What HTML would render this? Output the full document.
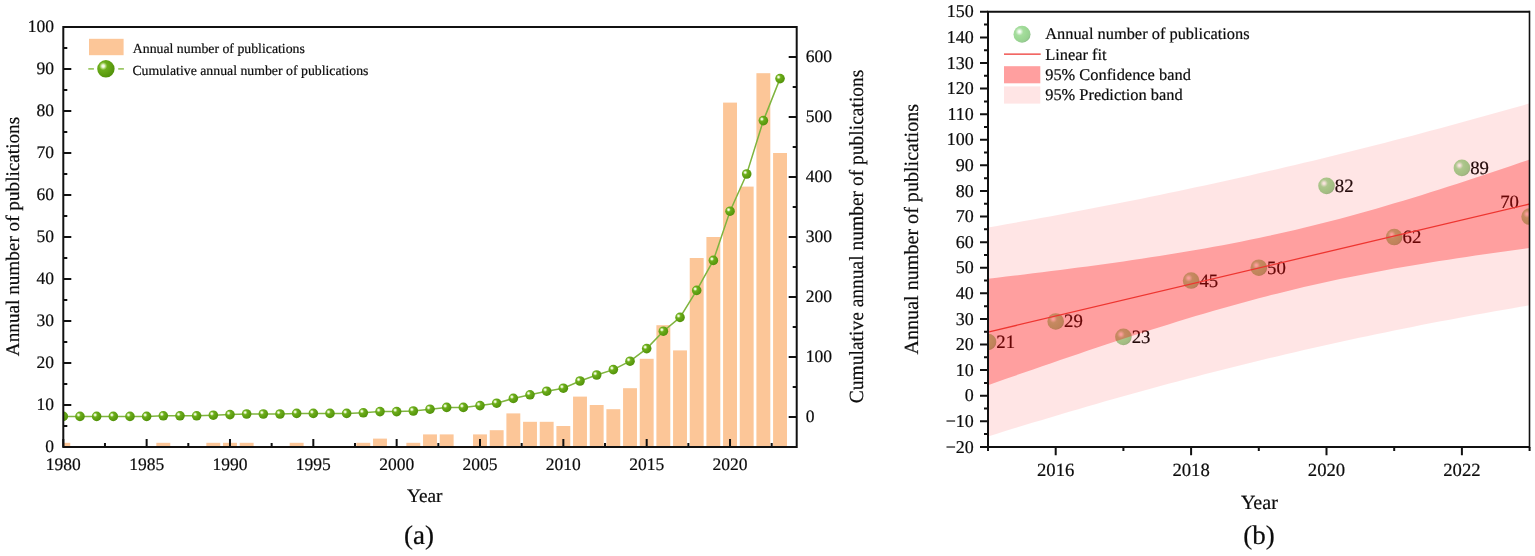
<!DOCTYPE html>
<html lang="en"><head><meta charset="utf-8"><title>Annual number of publications</title>
<style>html,body{margin:0;padding:0;background:#fff}body{width:1535px;height:556px;overflow:hidden}</style></head>
<body>
<svg width="1535" height="556" viewBox="0 0 1535 556" style="display:block;font-family:'Liberation Serif', 'Times New Roman', serif" fill="#0c0c0c">
<style>text{stroke:#0c0c0c;stroke-width:.2px;stroke-linejoin:round;text-rendering:geometricPrecision}</style>
<defs>
<radialGradient id="gs" cx="0.345" cy="0.345" r="0.68" fx="0.345" fy="0.345">
<stop offset="0" stop-color="#ffffff"/><stop offset="0.12" stop-color="#e6f4cc"/><stop offset="0.23" stop-color="#a5d165"/><stop offset="0.34" stop-color="#6cad1c"/><stop offset="0.6" stop-color="#62a313"/><stop offset="1" stop-color="#52920b"/>
</radialGradient>
<radialGradient id="gl" cx="0.35" cy="0.35" r="0.68" fx="0.35" fy="0.35">
<stop offset="0" stop-color="#ffffff"/><stop offset="0.1" stop-color="#f1faef"/><stop offset="0.22" stop-color="#c9ebc4"/><stop offset="0.34" stop-color="#a6dd9e"/><stop offset="0.6" stop-color="#9dd995"/><stop offset="0.9" stop-color="#98d091"/><stop offset="1" stop-color="#8dc08a"/>
</radialGradient>
<clipPath id="ca"><rect x="63.3" y="27" width="733.4" height="420"/></clipPath>
<clipPath id="cb"><rect x="988" y="11.8" width="541.6" height="435.1"/></clipPath>
</defs>
<rect width="1535" height="556" fill="#fff"/>
<g clip-path="url(#ca)" fill="#FCC698">
<rect x="56.35" y="442.80" width="13.9" height="4.20"/>
<rect x="156.36" y="442.80" width="13.9" height="4.20"/>
<rect x="206.36" y="442.80" width="13.9" height="4.20"/>
<rect x="223.03" y="442.80" width="13.9" height="4.20"/>
<rect x="239.70" y="442.80" width="13.9" height="4.20"/>
<rect x="289.70" y="442.80" width="13.9" height="4.20"/>
<rect x="356.38" y="442.80" width="13.9" height="4.20"/>
<rect x="373.05" y="438.60" width="13.9" height="8.40"/>
<rect x="406.38" y="442.80" width="13.9" height="4.20"/>
<rect x="423.05" y="434.40" width="13.9" height="12.60"/>
<rect x="439.72" y="434.40" width="13.9" height="12.60"/>
<rect x="473.05" y="434.40" width="13.9" height="12.60"/>
<rect x="489.72" y="430.20" width="13.9" height="16.80"/>
<rect x="506.39" y="413.40" width="13.9" height="33.60"/>
<rect x="523.06" y="421.80" width="13.9" height="25.20"/>
<rect x="539.73" y="421.80" width="13.9" height="25.20"/>
<rect x="556.40" y="426.00" width="13.9" height="21.00"/>
<rect x="573.06" y="396.60" width="13.9" height="50.40"/>
<rect x="589.73" y="405.00" width="13.9" height="42.00"/>
<rect x="606.40" y="409.20" width="13.9" height="37.80"/>
<rect x="623.07" y="388.20" width="13.9" height="58.80"/>
<rect x="639.74" y="358.80" width="13.9" height="88.20"/>
<rect x="656.40" y="325.20" width="13.9" height="121.80"/>
<rect x="673.07" y="350.40" width="13.9" height="96.60"/>
<rect x="689.74" y="258.00" width="13.9" height="189.00"/>
<rect x="706.41" y="237.00" width="13.9" height="210.00"/>
<rect x="723.08" y="102.60" width="13.9" height="344.40"/>
<rect x="739.75" y="186.60" width="13.9" height="260.40"/>
<rect x="756.41" y="73.20" width="13.9" height="373.80"/>
<rect x="773.08" y="153.00" width="13.9" height="294.00"/>
</g>
<g clip-path="url(#ca)"><polyline points="63.30,416.40 79.97,416.40 96.64,416.40 113.30,416.40 129.97,416.40 146.64,416.40 163.31,415.80 179.98,415.80 196.65,415.80 213.31,415.20 229.98,414.60 246.65,414.00 263.32,414.00 279.99,414.00 296.65,413.40 313.32,413.40 329.99,413.40 346.66,413.40 363.33,412.80 380.00,411.60 396.66,411.60 413.33,411.00 430.00,409.20 446.67,407.40 463.34,407.40 480.00,405.60 496.67,403.20 513.34,398.40 530.01,394.80 546.68,391.20 563.35,388.20 580.01,381.00 596.68,375.00 613.35,369.60 630.02,361.20 646.69,348.60 663.35,331.20 680.02,317.40 696.69,290.40 713.36,260.40 730.03,211.20 746.70,174.00 763.36,120.60 780.03,78.60" fill="none" stroke="#7FB43E" stroke-width="1.5"/>
<circle cx="63.30" cy="416.40" r="4.8" fill="url(#gs)"/>
<circle cx="79.97" cy="416.40" r="4.8" fill="url(#gs)"/>
<circle cx="96.64" cy="416.40" r="4.8" fill="url(#gs)"/>
<circle cx="113.30" cy="416.40" r="4.8" fill="url(#gs)"/>
<circle cx="129.97" cy="416.40" r="4.8" fill="url(#gs)"/>
<circle cx="146.64" cy="416.40" r="4.8" fill="url(#gs)"/>
<circle cx="163.31" cy="415.80" r="4.8" fill="url(#gs)"/>
<circle cx="179.98" cy="415.80" r="4.8" fill="url(#gs)"/>
<circle cx="196.65" cy="415.80" r="4.8" fill="url(#gs)"/>
<circle cx="213.31" cy="415.20" r="4.8" fill="url(#gs)"/>
<circle cx="229.98" cy="414.60" r="4.8" fill="url(#gs)"/>
<circle cx="246.65" cy="414.00" r="4.8" fill="url(#gs)"/>
<circle cx="263.32" cy="414.00" r="4.8" fill="url(#gs)"/>
<circle cx="279.99" cy="414.00" r="4.8" fill="url(#gs)"/>
<circle cx="296.65" cy="413.40" r="4.8" fill="url(#gs)"/>
<circle cx="313.32" cy="413.40" r="4.8" fill="url(#gs)"/>
<circle cx="329.99" cy="413.40" r="4.8" fill="url(#gs)"/>
<circle cx="346.66" cy="413.40" r="4.8" fill="url(#gs)"/>
<circle cx="363.33" cy="412.80" r="4.8" fill="url(#gs)"/>
<circle cx="380.00" cy="411.60" r="4.8" fill="url(#gs)"/>
<circle cx="396.66" cy="411.60" r="4.8" fill="url(#gs)"/>
<circle cx="413.33" cy="411.00" r="4.8" fill="url(#gs)"/>
<circle cx="430.00" cy="409.20" r="4.8" fill="url(#gs)"/>
<circle cx="446.67" cy="407.40" r="4.8" fill="url(#gs)"/>
<circle cx="463.34" cy="407.40" r="4.8" fill="url(#gs)"/>
<circle cx="480.00" cy="405.60" r="4.8" fill="url(#gs)"/>
<circle cx="496.67" cy="403.20" r="4.8" fill="url(#gs)"/>
<circle cx="513.34" cy="398.40" r="4.8" fill="url(#gs)"/>
<circle cx="530.01" cy="394.80" r="4.8" fill="url(#gs)"/>
<circle cx="546.68" cy="391.20" r="4.8" fill="url(#gs)"/>
<circle cx="563.35" cy="388.20" r="4.8" fill="url(#gs)"/>
<circle cx="580.01" cy="381.00" r="4.8" fill="url(#gs)"/>
<circle cx="596.68" cy="375.00" r="4.8" fill="url(#gs)"/>
<circle cx="613.35" cy="369.60" r="4.8" fill="url(#gs)"/>
<circle cx="630.02" cy="361.20" r="4.8" fill="url(#gs)"/>
<circle cx="646.69" cy="348.60" r="4.8" fill="url(#gs)"/>
<circle cx="663.35" cy="331.20" r="4.8" fill="url(#gs)"/>
<circle cx="680.02" cy="317.40" r="4.8" fill="url(#gs)"/>
<circle cx="696.69" cy="290.40" r="4.8" fill="url(#gs)"/>
<circle cx="713.36" cy="260.40" r="4.8" fill="url(#gs)"/>
<circle cx="730.03" cy="211.20" r="4.8" fill="url(#gs)"/>
<circle cx="746.70" cy="174.00" r="4.8" fill="url(#gs)"/>
<circle cx="763.36" cy="120.60" r="4.8" fill="url(#gs)"/>
<circle cx="780.03" cy="78.60" r="4.8" fill="url(#gs)"/>
</g>
<g stroke="#111" stroke-width="2" fill="none" stroke-linecap="butt">
<rect x="63.3" y="27.0" width="733.4000000000001" height="420.0"/>
<path d="M63.3 447.00h8 M63.3 426.00h4 M63.3 405.00h8 M63.3 384.00h4 M63.3 363.00h8 M63.3 342.00h4 M63.3 321.00h8 M63.3 300.00h4 M63.3 279.00h8 M63.3 258.00h4 M63.3 237.00h8 M63.3 216.00h4 M63.3 195.00h8 M63.3 174.00h4 M63.3 153.00h8 M63.3 132.00h4 M63.3 111.00h8 M63.3 90.00h4 M63.3 69.00h8 M63.3 48.00h4 M63.3 27.00h8 M796.7 447.00h-4 M796.7 417.00h-8 M796.7 387.00h-4 M796.7 357.00h-8 M796.7 327.00h-4 M796.7 297.00h-8 M796.7 267.00h-4 M796.7 237.00h-8 M796.7 207.00h-4 M796.7 177.00h-8 M796.7 147.00h-4 M796.7 117.00h-8 M796.7 87.00h-4 M796.7 57.00h-8 M796.7 27.00h-4 M63.30 447.0v-8 M104.97 447.0v-4 M146.64 447.0v-8 M188.31 447.0v-4 M229.98 447.0v-8 M271.65 447.0v-4 M313.32 447.0v-8 M354.99 447.0v-4 M396.66 447.0v-8 M438.33 447.0v-4 M480.00 447.0v-8 M521.68 447.0v-4 M563.35 447.0v-8 M605.02 447.0v-4 M646.69 447.0v-8 M688.36 447.0v-4 M730.03 447.0v-8 M771.70 447.0v-4"/>
</g>
<g font-size="17.5">
<text x="54.1" y="452.00" text-anchor="end">0</text>
<text x="54.1" y="410.00" text-anchor="end">10</text>
<text x="54.1" y="368.00" text-anchor="end">20</text>
<text x="54.1" y="326.00" text-anchor="end">30</text>
<text x="54.1" y="284.00" text-anchor="end">40</text>
<text x="54.1" y="242.00" text-anchor="end">50</text>
<text x="54.1" y="200.00" text-anchor="end">60</text>
<text x="54.1" y="158.00" text-anchor="end">70</text>
<text x="54.1" y="116.00" text-anchor="end">80</text>
<text x="54.1" y="74.00" text-anchor="end">90</text>
<text x="54.1" y="32.00" text-anchor="end">100</text>
<text x="805.8" y="422.20">0</text>
<text x="805.8" y="362.20">100</text>
<text x="805.8" y="302.20">200</text>
<text x="805.8" y="242.20">300</text>
<text x="805.8" y="182.20">400</text>
<text x="805.8" y="122.20">500</text>
<text x="805.8" y="62.20">600</text>
<text x="63.30" y="469.6" text-anchor="middle">1980</text>
<text x="146.64" y="469.6" text-anchor="middle">1985</text>
<text x="229.98" y="469.6" text-anchor="middle">1990</text>
<text x="313.32" y="469.6" text-anchor="middle">1995</text>
<text x="396.66" y="469.6" text-anchor="middle">2000</text>
<text x="480.00" y="469.6" text-anchor="middle">2005</text>
<text x="563.35" y="469.6" text-anchor="middle">2010</text>
<text x="646.69" y="469.6" text-anchor="middle">2015</text>
<text x="730.03" y="469.6" text-anchor="middle">2020</text>
</g>
<text font-size="19.3" text-anchor="middle" x="424.7" y="502.1">Year</text>
<text font-size="27" text-anchor="middle" x="419" y="544.4">(a)</text>
<text font-size="19.2" text-anchor="middle" transform="translate(19.1 236.5) rotate(-90)">Annual number of publications</text>
<text font-size="19.5" text-anchor="middle" transform="translate(862.6 236.4) rotate(-90) scale(1 1.03)">Cumulative annual number of publications</text>
<rect x="89" y="38.8" width="34.6" height="16.4" fill="#FCC698"/>
<path d="M88.3 68.8h5.6M118.2 68.8h5.7" stroke="#9CC866" stroke-width="1.7" fill="none"/>
<circle cx="105.9" cy="68.8" r="8.7" fill="url(#gs)"/>
<g font-size="13.8">
<text x="132.8" y="53.35">Annual number of publications</text>
<text x="132.4" y="74.95">Cumulative annual number of publications</text>
</g>
<g clip-path="url(#cb)">
<circle cx="988.00" cy="341.96" r="8.3" fill="url(#gl)"/>
<circle cx="1055.70" cy="321.49" r="8.3" fill="url(#gl)"/>
<circle cx="1123.40" cy="336.85" r="8.3" fill="url(#gl)"/>
<circle cx="1191.10" cy="280.54" r="8.3" fill="url(#gl)"/>
<circle cx="1258.80" cy="267.74" r="8.3" fill="url(#gl)"/>
<circle cx="1326.50" cy="185.84" r="8.3" fill="url(#gl)"/>
<circle cx="1394.20" cy="237.03" r="8.3" fill="url(#gl)"/>
<circle cx="1461.90" cy="167.92" r="8.3" fill="url(#gl)"/>
<circle cx="1529.60" cy="216.55" r="8.3" fill="url(#gl)"/>
</g>
<g font-size="18.8">
<text x="996.30" y="347.96">21</text>
<text x="1064.00" y="327.49">29</text>
<text x="1131.70" y="342.85">23</text>
<text x="1199.40" y="286.54">45</text>
<text x="1267.10" y="273.74">50</text>
<text x="1334.80" y="191.84">82</text>
<text x="1402.50" y="243.03">62</text>
<text x="1470.20" y="173.92">89</text>
<text x="1500.2" y="207.7">70</text>
</g>
<g clip-path="url(#cb)">
<path d="M988.0 227.46 L997.0 225.89 L1006.1 224.30 L1015.1 222.69 L1024.1 221.07 L1033.1 219.44 L1042.2 217.79 L1051.2 216.13 L1060.2 214.45 L1069.2 212.76 L1078.3 211.05 L1087.3 209.32 L1096.3 207.58 L1105.3 205.83 L1114.4 204.05 L1123.4 202.26 L1132.4 200.46 L1141.5 198.63 L1150.5 196.80 L1159.5 194.94 L1168.5 193.06 L1177.6 191.17 L1186.6 189.26 L1195.6 187.34 L1204.6 185.39 L1213.7 183.43 L1222.7 181.45 L1231.7 179.45 L1240.7 177.43 L1249.8 175.40 L1258.8 173.34 L1267.8 171.27 L1276.9 169.18 L1285.9 167.07 L1294.9 164.94 L1303.9 162.80 L1313.0 160.64 L1322.0 158.45 L1331.0 156.25 L1340.0 154.03 L1349.1 151.80 L1358.1 149.54 L1367.1 147.27 L1376.1 144.97 L1385.2 142.66 L1394.2 140.34 L1403.2 137.99 L1412.3 135.63 L1421.3 133.25 L1430.3 130.85 L1439.3 128.43 L1448.4 126.00 L1457.4 123.55 L1466.4 121.09 L1475.4 118.60 L1484.5 116.10 L1493.5 113.59 L1502.5 111.06 L1511.5 108.51 L1520.6 105.95 L1529.6 103.37 L1529.6 305.28 L1520.6 306.83 L1511.5 308.39 L1502.5 309.97 L1493.5 311.57 L1484.5 313.19 L1475.4 314.84 L1466.4 316.50 L1457.4 318.18 L1448.4 319.88 L1439.3 321.60 L1430.3 323.34 L1421.3 325.11 L1412.3 326.90 L1403.2 328.70 L1394.2 330.54 L1385.2 332.39 L1376.1 334.26 L1367.1 336.16 L1358.1 338.08 L1349.1 340.03 L1340.0 342.00 L1331.0 343.99 L1322.0 346.00 L1313.0 348.04 L1303.9 350.10 L1294.9 352.19 L1285.9 354.30 L1276.9 356.43 L1267.8 358.59 L1258.8 360.77 L1249.8 362.97 L1240.7 365.20 L1231.7 367.45 L1222.7 369.72 L1213.7 372.02 L1204.6 374.34 L1195.6 376.69 L1186.6 379.05 L1177.6 381.44 L1168.5 383.86 L1159.5 386.29 L1150.5 388.75 L1141.5 391.23 L1132.4 393.73 L1123.4 396.25 L1114.4 398.80 L1105.3 401.36 L1096.3 403.95 L1087.3 406.55 L1078.3 409.18 L1069.2 411.82 L1060.2 414.49 L1051.2 417.17 L1042.2 419.88 L1033.1 422.60 L1024.1 425.34 L1015.1 428.09 L1006.1 430.87 L997.0 433.66 L988.0 436.47Z" fill="#FF0000" fill-opacity="0.1"/>
<path d="M988.0 278.74 L997.0 277.68 L1006.1 276.61 L1015.1 275.53 L1024.1 274.44 L1033.1 273.33 L1042.2 272.21 L1051.2 271.08 L1060.2 269.93 L1069.2 268.77 L1078.3 267.59 L1087.3 266.39 L1096.3 265.17 L1105.3 263.93 L1114.4 262.66 L1123.4 261.38 L1132.4 260.07 L1141.5 258.73 L1150.5 257.36 L1159.5 255.96 L1168.5 254.53 L1177.6 253.07 L1186.6 251.57 L1195.6 250.03 L1204.6 248.45 L1213.7 246.82 L1222.7 245.15 L1231.7 243.44 L1240.7 241.67 L1249.8 239.85 L1258.8 237.98 L1267.8 236.06 L1276.9 234.08 L1285.9 232.05 L1294.9 229.96 L1303.9 227.81 L1313.0 225.61 L1322.0 223.34 L1331.0 221.03 L1340.0 218.66 L1349.1 216.23 L1358.1 213.76 L1367.1 211.23 L1376.1 208.66 L1385.2 206.04 L1394.2 203.37 L1403.2 200.67 L1412.3 197.92 L1421.3 195.13 L1430.3 192.31 L1439.3 189.46 L1448.4 186.58 L1457.4 183.66 L1466.4 180.72 L1475.4 177.75 L1484.5 174.75 L1493.5 171.74 L1502.5 168.70 L1511.5 165.64 L1520.6 162.56 L1529.6 159.47 L1529.6 248.11 L1520.6 249.31 L1511.5 250.52 L1502.5 251.76 L1493.5 253.01 L1484.5 254.29 L1475.4 255.59 L1466.4 256.91 L1457.4 258.26 L1448.4 259.64 L1439.3 261.05 L1430.3 262.49 L1421.3 263.97 L1412.3 265.48 L1403.2 267.02 L1394.2 268.61 L1385.2 270.24 L1376.1 271.91 L1367.1 273.63 L1358.1 275.39 L1349.1 277.21 L1340.0 279.07 L1331.0 280.99 L1322.0 282.96 L1313.0 284.98 L1303.9 287.06 L1294.9 289.20 L1285.9 291.39 L1276.9 293.63 L1267.8 295.93 L1258.8 298.28 L1249.8 300.68 L1240.7 303.14 L1231.7 305.64 L1222.7 308.19 L1213.7 310.79 L1204.6 313.43 L1195.6 316.11 L1186.6 318.83 L1177.6 321.59 L1168.5 324.38 L1159.5 327.21 L1150.5 330.07 L1141.5 332.96 L1132.4 335.87 L1123.4 338.82 L1114.4 341.79 L1105.3 344.78 L1096.3 347.79 L1087.3 350.82 L1078.3 353.88 L1069.2 356.95 L1060.2 360.04 L1051.2 363.14 L1042.2 366.26 L1033.1 369.39 L1024.1 372.53 L1015.1 375.69 L1006.1 378.86 L997.0 382.04 L988.0 385.23Z" fill="#FF0000" fill-opacity="0.305"/>
<path d="M988.0 332.05L1529.6 204.00" stroke="#EE3530" stroke-width="1.3" fill="none"/>
</g>
<g stroke="#111" stroke-width="2" fill="none">
<path d="M1529.6 11.8H988.0V446.9H1529.6"/><path d="M1529.5 10.8V447.9" stroke-width="1.6"/>
<path d="M988.0 446.90h-8 M988.0 434.10h-4 M988.0 421.31h-8 M988.0 408.51h-4 M988.0 395.71h-8 M988.0 382.91h-4 M988.0 370.12h-8 M988.0 357.32h-4 M988.0 344.52h-8 M988.0 331.73h-4 M988.0 318.93h-8 M988.0 306.13h-4 M988.0 293.34h-8 M988.0 280.54h-4 M988.0 267.74h-8 M988.0 254.94h-4 M988.0 242.15h-8 M988.0 229.35h-4 M988.0 216.55h-8 M988.0 203.76h-4 M988.0 190.96h-8 M988.0 178.16h-4 M988.0 165.36h-8 M988.0 152.57h-4 M988.0 139.77h-8 M988.0 126.97h-4 M988.0 114.18h-8 M988.0 101.38h-4 M988.0 88.58h-8 M988.0 75.79h-4 M988.0 62.99h-8 M988.0 50.19h-4 M988.0 37.39h-8 M988.0 24.60h-4 M988.0 11.80h-8 M988.00 446.9v4 M1055.70 446.9v8.4 M1123.40 446.9v4 M1191.10 446.9v8.4 M1258.80 446.9v4 M1326.50 446.9v8.4 M1394.20 446.9v4 M1461.90 446.9v8.4 M1529.60 446.9v4"/>
</g>
<g font-size="18">
<text x="973.8" y="452.50" text-anchor="end">−20</text>
<text x="973.8" y="426.91" text-anchor="end">−10</text>
<text x="973.8" y="401.31" text-anchor="end">0</text>
<text x="973.8" y="375.72" text-anchor="end">10</text>
<text x="973.8" y="350.12" text-anchor="end">20</text>
<text x="973.8" y="324.53" text-anchor="end">30</text>
<text x="973.8" y="298.94" text-anchor="end">40</text>
<text x="973.8" y="273.34" text-anchor="end">50</text>
<text x="973.8" y="247.75" text-anchor="end">60</text>
<text x="973.8" y="222.15" text-anchor="end">70</text>
<text x="973.8" y="196.56" text-anchor="end">80</text>
<text x="973.8" y="170.96" text-anchor="end">90</text>
<text x="973.8" y="145.37" text-anchor="end">100</text>
<text x="973.8" y="119.78" text-anchor="end">110</text>
<text x="973.8" y="94.18" text-anchor="end">120</text>
<text x="973.8" y="68.59" text-anchor="end">130</text>
<text x="973.8" y="42.99" text-anchor="end">140</text>
<text x="973.8" y="17.40" text-anchor="end">150</text>
</g>
<g font-size="18.7">
<text x="1055.70" y="475.6" text-anchor="middle">2016</text>
<text x="1191.10" y="475.6" text-anchor="middle">2018</text>
<text x="1326.50" y="475.6" text-anchor="middle">2020</text>
<text x="1461.90" y="475.6" text-anchor="middle">2022</text>
</g>
<text font-size="20.1" text-anchor="middle" x="1259.4" y="509">Year</text>
<text font-size="27" text-anchor="middle" x="1259" y="544.4">(b)</text>
<text font-size="20.1" text-anchor="middle" transform="translate(918.1 229.2) rotate(-90)">Annual number of publications</text>
<circle cx="1022" cy="34.2" r="8.5" fill="url(#gl)"/>
<path d="M1004 54.2H1040.7" stroke="#EE3530" stroke-width="1.3"/>
<rect x="1004" y="66.2" width="36.3" height="17.1" fill="#FF9F9F"/>
<rect x="1004" y="86.4" width="36.3" height="17.2" fill="#FFE5E5"/>
<g font-size="16.4">
<text x="1045.2" y="38.9">Annual number of publications</text>
<text x="1045.2" y="59.6">Linear fit</text>
<text x="1045.2" y="80.1">95% Confidence band</text>
<text x="1045.2" y="100.4">95% Prediction band</text>
</g>
</svg>
</body></html>
